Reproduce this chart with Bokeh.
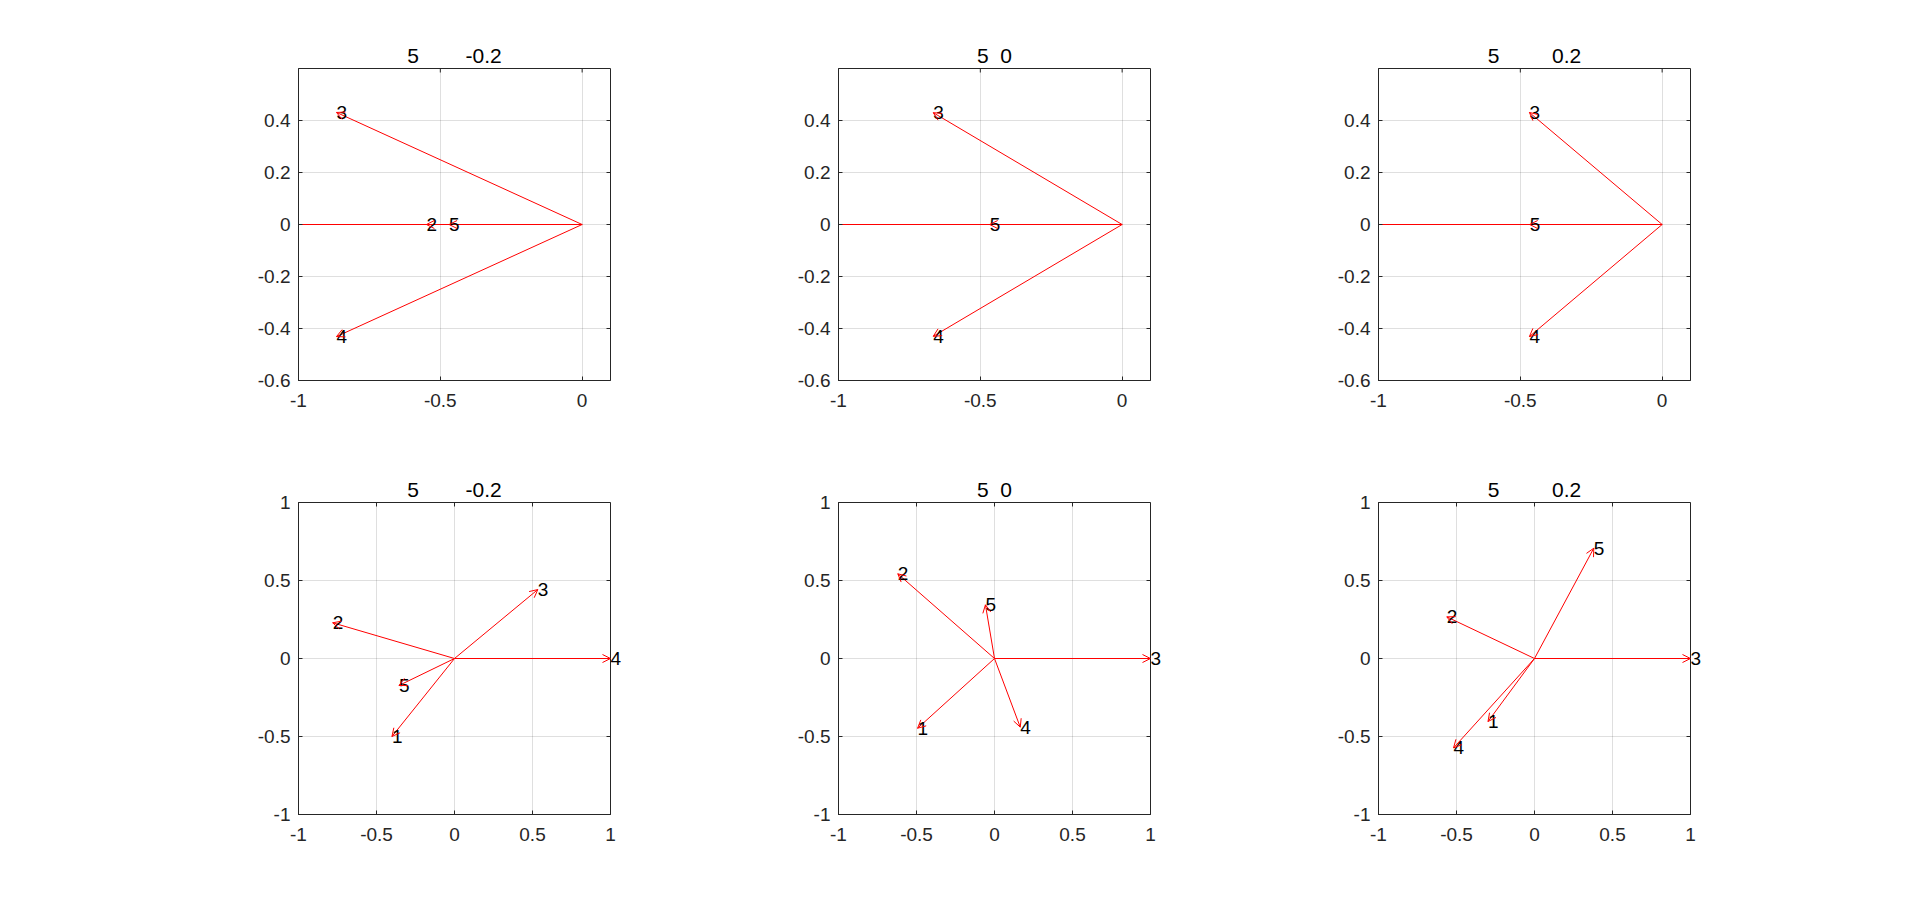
import numpy as np
from bokeh.plotting import figure
from bokeh.models import (ColumnDataSource, Arrow, OpenHead, FixedTicker,
                          Range1d, Label, Title)
from bokeh.layouts import row, column
from bokeh.embed import file_html
from bokeh.resources import INLINE

# ---------------- data ----------------
vector_ids = ["1", "2", "3", "4", "5"]
NB = "\u00a0"
titles = ["5" + NB * 8 + "-0.2", "5" + NB * 2 + "0", "5" + NB * 9 + "0.2"]

# top row: vector tips (vector 1 / 2 partly lie beyond the left limit)
top_x = [
    [-1.5, -0.549, -0.866, -0.866, -0.469],
    [-1.5, -1.5, -0.666, -0.666, -0.467],
    [-1.5, -1.5, -0.468, -0.468, -0.467],
]
top_y = [
    [0.0, 0.0, 0.431, -0.431, 0.0],
    [0.0, 0.0, 0.430, -0.430, 0.0],
    [0.0, 0.0, 0.431, -0.431, 0.0],
]
# bottom row: vector tips
bottom_x = [
    [-0.401, -0.781, 0.534, 1.0, -0.356],
    [-0.493, -0.620, 1.0, 0.165, -0.058],
    [-0.298, -0.562, 1.0, -0.519, 0.380],
]
bottom_y = [
    [-0.500, 0.229, 0.442, 0.0, -0.173],
    [-0.447, 0.543, 0.0, -0.440, 0.344],
    [-0.404, 0.267, 0.0, -0.573, 0.707],
]

top_xlim = (-1.0, 0.1)
top_ylim = (-0.6, 0.6)
top_xticks = [-1, -0.5, 0]
top_yticks = [-0.6, -0.4, -0.2, 0, 0.2, 0.4]

bottom_xlim = (-1.0, 1.0)
bottom_ylim = (-1.0, 1.0)
bottom_xticks = [-1, -0.5, 0, 0.5, 1]
bottom_yticks = [-1, -0.5, 0, 0.5, 1]

# ---------------- style ----------------
FONT = "Liberation Sans"
AX_COLOR = "#262626"
RED = "#ff0000"
FRAME = 312
TICK_PX = 4


def fmt(t):
    return f"{t:g}"


def style_axis(ax, ticks, standoff):
    ax.ticker = FixedTicker(ticks=ticks)
    ax.major_label_overrides = {t: fmt(t) for t in ticks}
    ax.major_tick_in = TICK_PX
    ax.major_tick_out = 0
    ax.minor_tick_line_color = None
    ax.axis_line_color = AX_COLOR
    ax.axis_line_width = 1
    ax.major_tick_line_color = AX_COLOR
    ax.major_label_text_color = AX_COLOR
    ax.major_label_text_font = FONT
    ax.major_label_text_font_size = "19px"
    ax.major_label_standoff = standoff


def make_panel(title, xs, ys, xlim, ylim, xticks, yticks, left_border, top_border, bottom_border):
    p = figure(frame_width=FRAME, frame_height=FRAME,
               x_range=Range1d(*xlim), y_range=Range1d(*ylim),
               output_backend="svg", toolbar_location=None,
               min_border_left=left_border, min_border_right=114,
               min_border_top=top_border, min_border_bottom=bottom_border,
               title=None)
    p.add_layout(Title(text=title, align="center", text_font=FONT,
                       text_font_size="21px", text_font_style="normal",
                       text_color="black", standoff=4), "above")

    p.background_fill_color = "white"
    p.border_fill_color = "white"
    p.outline_line_color = AX_COLOR
    p.outline_line_width = 1
    p.outline_line_alpha = 1.0

    style_axis(p.xaxis[0], xticks, 13)
    style_axis(p.yaxis[0], yticks, 8)

    p.xgrid.ticker = FixedTicker(ticks=xticks)
    p.ygrid.ticker = FixedTicker(ticks=yticks)
    for g in (p.xgrid, p.ygrid):
        g.grid_line_color = AX_COLOR
        g.grid_line_alpha = 0.15
        g.grid_line_width = 1

    # inward tick marks on the top and right box edges
    dx = TICK_PX * (xlim[1] - xlim[0]) / FRAME
    dy = TICK_PX * (ylim[1] - ylim[0]) / FRAME
    xt = np.asarray(xticks, dtype=float)
    yt = np.asarray(yticks, dtype=float)
    p.segment(x0=xt, y0=np.full_like(xt, ylim[1]), x1=xt, y1=np.full_like(xt, ylim[1] - dy),
              line_color=AX_COLOR, line_width=1)
    p.segment(x0=np.full_like(yt, xlim[1]), y0=yt, x1=np.full_like(yt, xlim[1] - dx), y1=yt,
              line_color=AX_COLOR, line_width=1)

    xs = np.asarray(xs, dtype=float)
    ys = np.asarray(ys, dtype=float)
    x0 = np.zeros_like(xs)
    y0 = np.zeros_like(ys)

    src = ColumnDataSource(dict(x0=x0, y0=y0, x=xs, y=ys, label=vector_ids))
    p.segment(x0="x0", y0="y0", x1="x", y1="y", source=src,
              line_color=RED, line_width=1)

    inside = (xs >= xlim[0] - 1e-9) & (xs <= xlim[1] + 1e-9) & \
             (ys >= ylim[0] - 1e-9) & (ys <= ylim[1] + 1e-9)
    vis = ColumnDataSource(dict(x0=x0[inside], y0=y0[inside], x=xs[inside], y=ys[inside]))
    p.add_layout(Arrow(end=OpenHead(size=8, line_color=RED, line_width=1),
                       x_start="x0", y_start="y0", x_end="x", y_end="y",
                       source=vis, line_alpha=0.0))
    # labels live in a side panel so that they are not clipped by the frame
    for lab, x, y, k in zip(vector_ids, xs, ys, inside):
        if k:
            p.add_layout(Label(x=x, y=y, text=lab, text_align="left",
                               text_baseline="middle", text_font=FONT,
                               text_font_size="19px", text_color="black"), "right")
    return p


top_panels = []
bottom_panels = []
for i in range(3):
    lb = 298 if i == 0 else 114
    top_panels.append(make_panel(titles[i], top_x[i], top_y[i], top_xlim, top_ylim,
                                 top_xticks, top_yticks, lb, 68, 62))
    bottom_panels.append(make_panel(titles[i], bottom_x[i], bottom_y[i], bottom_xlim,
                                    bottom_ylim, bottom_xticks, bottom_yticks, lb, 60, 40))

layout = column(row(*top_panels), row(*bottom_panels))
open("out.html", "w").write(file_html(layout, INLINE))
